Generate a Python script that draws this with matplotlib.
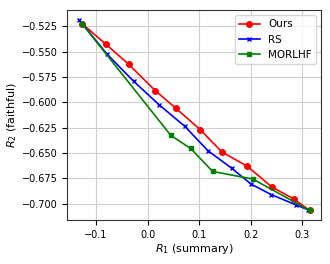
import matplotlib
matplotlib.use("Agg")
import matplotlib.pyplot as plt

ours_x = [-0.127, -0.081, -0.037, 0.015, 0.055, 0.102, 0.144, 0.193, 0.241, 0.284, 0.314]
ours_y = [-0.5226, -0.5427, -0.5624, -0.5886, -0.606, -0.627, -0.649, -0.663, -0.6836, -0.6955, -0.7066]
rs_x = [-0.1334, -0.0793, -0.0273, 0.0222, 0.0723, 0.117, 0.163, 0.2006, 0.240, 0.287, 0.311]
rs_y = [-0.5184, -0.5522, -0.5792, -0.6024, -0.6238, -0.6478, -0.665, -0.6807, -0.6911, -0.701, -0.706]
morlhf_x = [-0.127, 0.045, 0.0834, 0.126, 0.204, 0.314]
morlhf_y = [-0.5226, -0.6327, -0.6455, -0.6682, -0.6757, -0.7066]

fig = plt.figure(figsize=(3.3, 2.64), dpi=100)
ax = fig.add_axes([0.204, 0.167, 0.769, 0.795])
ax.plot(ours_x, ours_y, color="red", marker="o", markersize=4, linewidth=1.2, label="Ours")
ax.plot(rs_x, rs_y, color="blue", marker="x", markersize=3.5, linewidth=1.2, label="RS")
ax.plot(morlhf_x, morlhf_y, color="green", marker="s", markersize=3.5, linewidth=1.2, label="MORLHF")
ax.grid(True, color="#cfcfcf", linewidth=0.8)
ax.set_axisbelow(True)
for s in ax.spines.values():
    s.set_color("#333333")
ax.tick_params(labelsize=7)
ax.set_xlabel(r"$R_1$ (summary)", fontsize=8, labelpad=2)
ax.set_ylabel(r"$R_2$ (faithful)", fontsize=8, labelpad=2)
ax.legend(fontsize=7.5, loc="upper right")
fig.savefig("out.png", dpi=100)
